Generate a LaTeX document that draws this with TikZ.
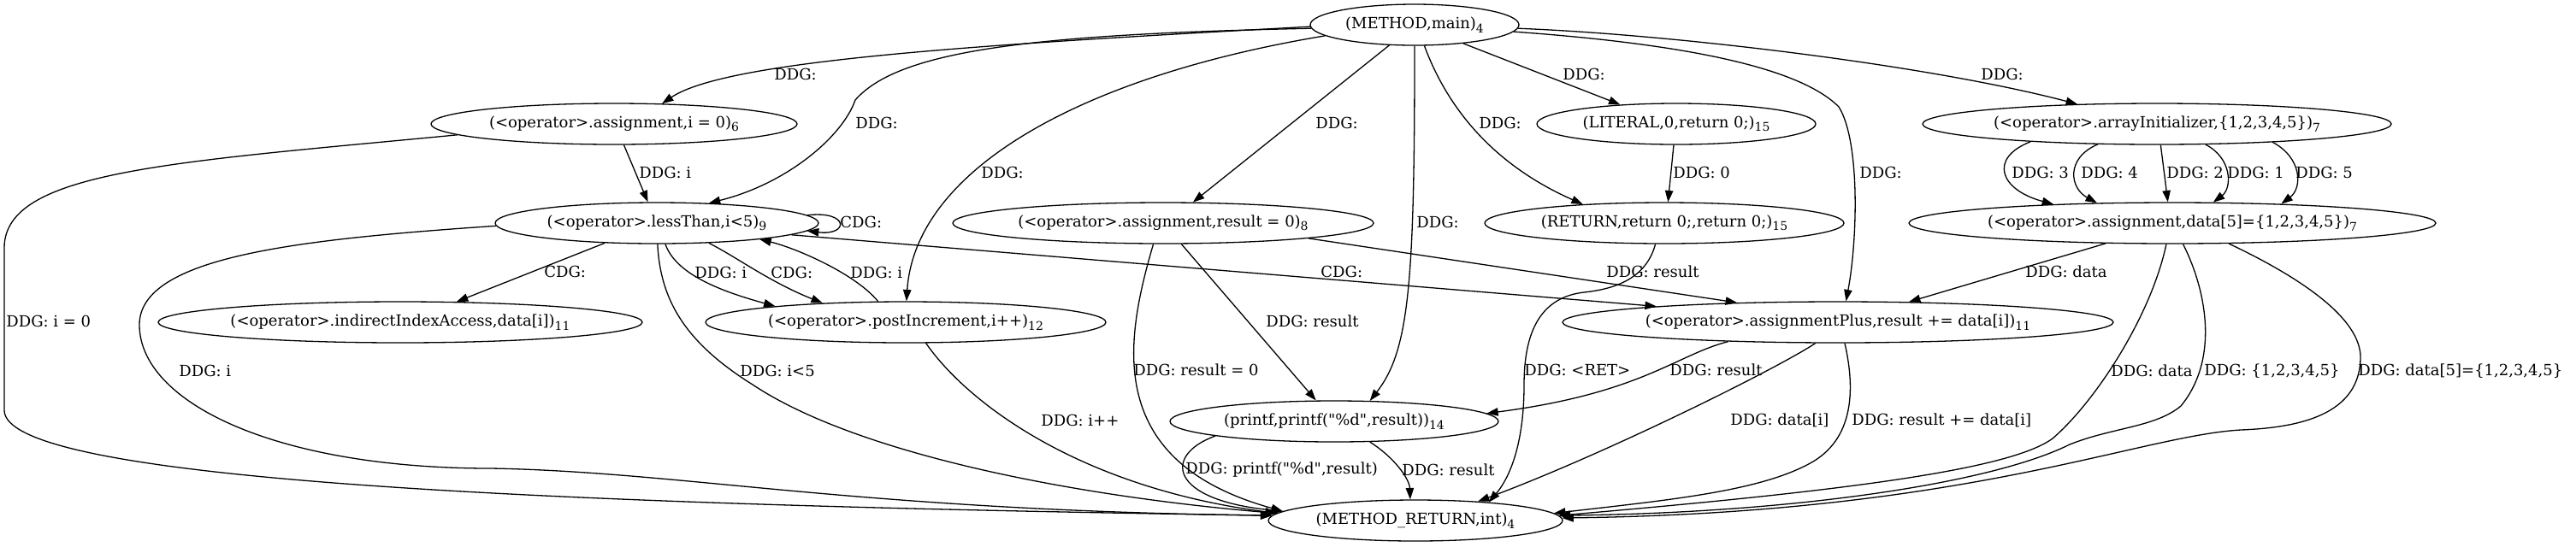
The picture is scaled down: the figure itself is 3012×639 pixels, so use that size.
\documentclass[tikz,border=0pt]{standalone}
\usepackage{fontspec}
\setmainfont{DejaVu Serif}[Ligatures=TeXOff]
\usetikzlibrary{shapes.geometric,arrows.meta}
\newcommand{\gsub}[1]{\raisebox{-2.2pt}{\fontsize{7}{8}\selectfont #1}}
\newcommand{\dq}{\symbol{"22}}
\begin{document}
\begin{tikzpicture}[x=0.5pt,y=-0.5pt,
  every node/.style={font=\fontsize{9}{11}\selectfont},
  gnode/.style={draw, ellipse, line width=0.65pt, inner sep=0pt, minimum height=24pt},
  gedge/.style={draw, line width=0.65pt, -{Triangle[length=6.7pt,width=4.7pt]}},
  glab/.style={inner sep=0pt, anchor=west}]
\fill[white] (0,0) rectangle (3012,639);
\useasboundingbox (0,0) rectangle (3012,639);
% nodes
\node[gnode, minimum width=122pt] (main) at (1654,29) {\makebox[0pt]{(METHOD,main)\gsub{4}}};
\node[gnode, minimum width=214pt] (asgI) at (718,145) {\makebox[0pt]{(<operator>.assignment,i = 0)\gsub{6}}};
\node[gnode, minimum width=189pt] (lt) at (768,261) {\makebox[0pt]{(<operator>.lessThan,i<5)\gsub{9}}};
\node[gnode, minimum width=283pt] (idx) at (468,377) {\makebox[0pt]{(<operator>.indirectIndexAccess,data[i])\gsub{11}}};
\node[gnode, minimum width=234pt] (inc) at (1059,377) {\makebox[0pt]{(<operator>.postIncrement,i++)\gsub{12}}};
\node[gnode, minimum width=246pt] (asgR) at (1360,261) {\makebox[0pt]{(<operator>.assignment,result = 0)\gsub{8}}};
\node[gnode, minimum width=163pt] (lit) at (1960,145) {\makebox[0pt]{(LITERAL,0,return 0;)\gsub{15}}};
\node[gnode, minimum width=210pt] (ret) at (1946,261) {\makebox[0pt]{(RETURN,return 0;,return 0;)\gsub{15}}};
\node[gnode, minimum width=274pt] (arr) at (2522,145) {\makebox[0pt]{(<operator>.arrayInitializer,\{1,2,3,4,5\})\gsub{7}}};
\node[gnode, minimum width=308pt] (asgD) at (2540,261) {\makebox[0pt]{(<operator>.assignment,data[5]=\{1,2,3,4,5\})\gsub{7}}};
\node[gnode, minimum width=322pt] (plus) at (2149,377) {\makebox[0pt]{(<operator>.assignmentPlus,result += data[i])\gsub{11}}};
\node[gnode, minimum width=192pt] (pf) at (1560,493) {\makebox[0pt]{(printf,printf(\dq\%d\dq,result))\gsub{14}}};
\node[gnode, minimum width=172pt] (mr) at (1655,609) {\makebox[0pt]{(METHOD\_RETURN,int)\gsub{4}}};
% edges from main
\draw[gedge] (main.181) .. controls (1150,52) and (850,70) .. (asgI.23);
\draw[gedge] (main.182) .. controls (1200,40) and (1050,60) .. (1000,117) .. controls (985,160) and (920,215) .. (lt.21.5);
\draw[gedge] (main.187) .. controls (1260,90) and (1070,200) .. (inc.88);
\draw[gedge] (main.219) -- (asgR.35);
\draw[gedge] (main.-90) .. controls (1654,330) and (1648,410) .. (pf.30);
\draw[gedge] (main.-65) .. controls (1690,120) and (1740,190) .. (ret.167);
\draw[gedge] (main.-21) -- (lit.161);
\draw[gedge] (main.-4) .. controls (1950,50) and (2100,75) .. (2150,125) .. controls (2175,165) and (2172,280) .. (plus.69);
\draw[gedge] (main.-2) .. controls (1950,40) and (2250,75) .. (arr.166);
% from asgI
\draw[gedge] (asgI.-65) -- (lt.113);
\draw[gedge] (asgI.184) .. controls (200,190) and (5,200) .. (5,290) -- (5,480) .. controls (5,560) and (600,590) .. (mr.178.5);
% from lt
\draw[gedge] (lt.3) .. controls (993,246) and (993,276) .. (lt.-3);
\draw[gedge] (lt.201.5) -- (idx.20);
\draw[gedge] (lt.-68) .. controls (790,320) and (840,340) .. (inc.173);
\draw[gedge] (lt.-21.5) .. controls (860,300) and (900,330) .. (inc.167.5);
\draw[gedge] (inc.143) .. controls (1000,320) and (930,290) .. (lt.-9);
\draw[gedge] (lt.-5) -- (plus.175);
\draw[gedge] (lt.181.5) .. controls (350,280) and (163,300) .. (163,380) .. controls (163,470) and (320,548) .. (574,548) .. controls (800,552) and (1000,597) .. (mr.178);
\draw[gedge] (lt.-88) .. controls (772,350) and (800,400) .. (880,450) .. controls (1000,530) and (1250,580) .. (mr.177.5);
\draw[gedge] (inc.-46) .. controls (1130,470) and (1260,570) .. (mr.177);
% from asgR
\draw[gedge] (asgR.-6) -- (plus.169);
\draw[gedge] (asgR.-49) -- (pf.131);
\draw[gedge] (asgR.245) .. controls (1315,400) and (1290,540) .. (mr.176.5);
% lit, ret
\draw[gedge] (lit.263) -- (ret.80);
\draw[gedge] (ret.247) .. controls (1925,325) and (1890,338) .. (1852,342) .. controls (1800,348) and (1782,390) .. (1782,450) .. controls (1782,530) and (1760,565) .. (mr.14);
% arr -> asgD
\draw[gedge] (arr.188) .. controls (2325,185) and (2338,222) .. (asgD.171);
\draw[gedge] (arr.199) .. controls (2415,185) and (2420,220) .. (asgD.165);
\draw[gedge] (arr.-80.5) -- (asgD.102);
\draw[gedge] (arr.-23) .. controls (2610,185) and (2610,220) .. (asgD.27);
\draw[gedge] (arr.-9.5) .. controls (2692,185) and (2692,220) .. (asgD.10.7);
% from asgD
\draw[gedge] (asgD.197) -- (plus.16);
\draw[gedge] (asgD.254) .. controls (2515,370) and (2450,470) .. (2400,513) .. controls (2350,550) and (2150,575) .. (mr.2.8);
\draw[gedge] (asgD.-63) .. controls (2580,340) and (2595,420) .. (2550,475) .. controls (2520,500) and (2470,500) .. (2420,520) .. controls (2330,565) and (2100,600) .. (mr.2);
\draw[gedge] (asgD.-20) .. controls (2680,320) and (2762,370) .. (2760,420) .. controls (2758,480) and (2700,500) .. (2620,503) .. controls (2500,510) and (2300,600) .. (mr.1.2);
% from plus
\draw[gedge] (plus.190) .. controls (1960,415) and (1920,460) .. (pf.3);
\draw[gedge] (plus.223) .. controls (2080,430) and (1880,530) .. (mr.17);
\draw[gedge] (plus.-72) .. controls (2168,450) and (2170,510) .. (2120,540) .. controls (2060,575) and (1950,585) .. (mr.3.5);
% from pf
\draw[gedge] (pf.187) .. controls (1360,532) and (1365,585) .. (mr.176);
\draw[gedge] (pf.-30) .. controls (1630,535) and (1648,560) .. (mr.104);
% labels
\node[glab] (l1) at (905,87) {DDG:};
\node[glab] (l2) at (1000,144) {DDG:};
\node[glab] (l3) at (1147,202) {DDG:};
\node[glab] (l4) at (1538,144) {DDG:};
\node[glab] (l5) at (1656,260) {DDG:};
\node[glab] (l6) at (1729,144) {DDG:};
\node[glab] (l7) at (1827,87) {DDG:};
\node[glab] (l8) at (2174,202) {DDG:};
\node[glab] (l9) at (2316,87) {DDG:};
\node[glab] (l10) at (747,202) {DDG: i};
\node[glab] (l11) at (7,376) {DDG: i = 0};
\node[glab] (l12) at (982,260) {CDG:};
\node[glab] (l13) at (636,318) {CDG:};
\node[glab] (l14) at (812,319) {DDG: i};
\node[glab] (l15) at (901,319) {CDG:};
\node[glab] (l16) at (994,319) {DDG: i};
\node[glab] (l17) at (1544,318) {CDG:};
\node[glab] (l18) at (209,434) {DDG: i};
\node[glab] (l19) at (865,434) {DDG: i<5};
\node[glab] (l20) at (1217,492) {DDG: i++};
\node[glab] (l21) at (1878,318) {DDG: result};
\node[glab] (l22) at (1480,376) {DDG: result};
\node[glab] (l23) at (1325,433) {DDG: result = 0};
\node[glab] (l24) at (1956,202) {DDG: 0};
\node[glab] (l25) at (1782,433) {DDG: <RET>};
\node[glab] (l26) at (2352,202) {DDG: 3};
\node[glab] (l27) at (2433,202) {DDG: 4};
\node[glab] (l28) at (2533,202) {DDG: 2};
\node[glab] (l29) at (2604,202) {DDG: 1};
\node[glab] (l30) at (2684,202) {DDG: 5};
\node[glab] (l31) at (2368,318) {DDG: data};
\node[glab] (l32) at (2468,434) {DDG: data};
\node[glab] (l33) at (2577,434) {DDG: \{1,2,3,4,5\}};
\node[glab] (l34) at (2757,434) {DDG: data[5]=\{1,2,3,4,5\}};
\node[glab] (l35) at (1952,433) {DDG: result};
\node[glab] (l36) at (2023,492) {DDG: data[i]};
\node[glab] (l37) at (2165,492) {DDG: result += data[i]};
\node[glab] (l38) at (1386,550) {DDG: printf(\dq\%d\dq,result)};
\node[glab] (l39) at (1639,550) {DDG: result};
\end{tikzpicture}
\end{document}
